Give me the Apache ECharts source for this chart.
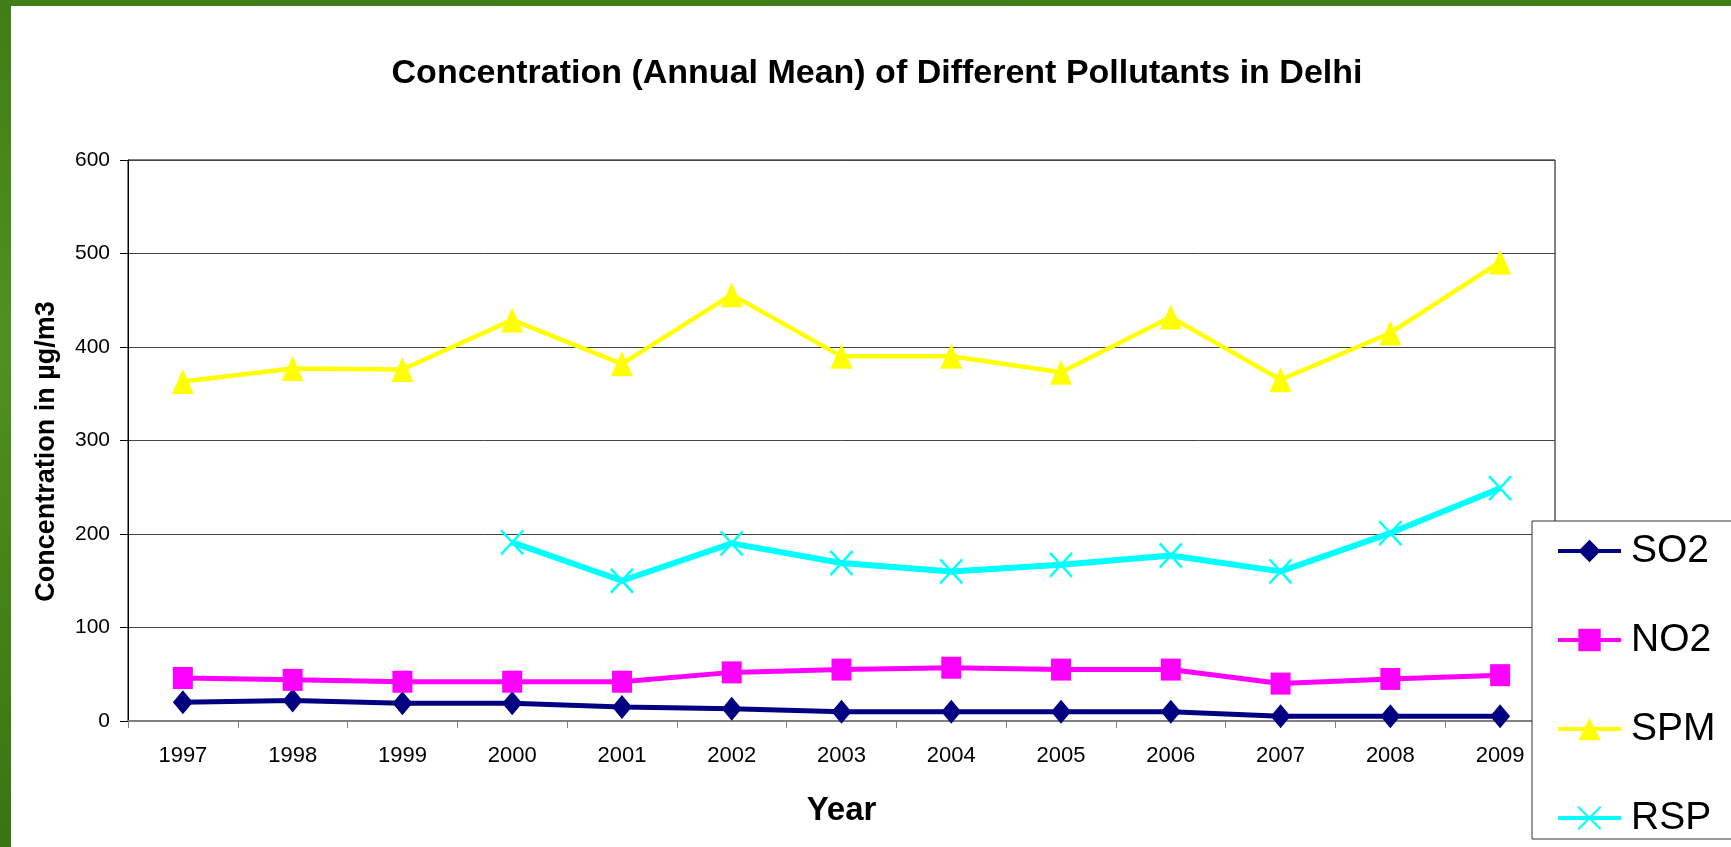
<!DOCTYPE html>
<html>
<head>
<meta charset="utf-8">
<title>Concentration of Pollutants in Delhi</title>
<script src="https://cdn.jsdelivr.net/npm/echarts@6/dist/echarts.min.js"></script>
<style>
  html, body { margin: 0; padding: 0; }
  body {
    width: 1731px; height: 847px; overflow: hidden; position: relative;
    background: linear-gradient(180deg, #3f7d16 0%, #4f9120 40%, #3a7412 100%);
  }
  #chart {
    position: absolute; left: 11px; top: 6px;
    width: 1720px; height: 841px; background: #fff;
  }
</style>
</head>
<body>
<div id="chart"></div>
<script>
  // values (µg/m3)
  var years = ['1997', '1998', '1999', '2000', '2001', '2002', '2003', '2004', '2005', '2006', '2007', '2008', '2009'];
  var so2 = [20, 22, 19, 19, 15, 13, 10, 10, 10, 10, 5, 5, 5];
  var no2 = [46, 44, 42, 42, 42, 52, 55, 57, 55, 55, 40, 45, 49];
  var spm = [363, 377, 376, 429, 382, 456, 390, 390, 373, 432, 365, 415, 491];
  var rsp = [null, null, null, 191, 150, 190, 169, 160, 167, 177, 160, 201, 249];

  var font = '"Liberation Sans", Arial, sans-serif';
  var crossPath = 'path://M0,0L10,10M10,0L0,10';

  var chart = echarts.init(document.getElementById('chart'));
  chart.setOption({
    animation: false,
    backgroundColor: '#fff',
    title: {
      text: 'Concentration (Annual Mean) of Different Pollutants in Delhi',
      left: 866,
      top: 51,
      textAlign: 'center',
      padding: 0,
      textStyle: { fontFamily: font, fontSize: 34, fontWeight: 'bold', color: '#000' }
    },
    legend: {
      orient: 'vertical',
      left: 1521,
      top: 515,
      padding: [10, 17, 1, 24],
      itemGap: 49,
      itemWidth: 63,
      itemHeight: 28,
      backgroundColor: '#fff',
      borderColor: '#333',
      borderWidth: 1,
      borderRadius: 0,
      selectedMode: false,
      lineStyle: { width: 4 },
      textStyle: { fontFamily: font, fontSize: 39, color: '#000', lineHeight: 40, padding: [0, 0, 0, 5] },
      data: ['SO2', 'NO2', 'SPM', 'RSP']
    },
    grid: {
      left: 117,
      right: 176,
      top: 154,
      bottom: 126,
      show: true,
      borderColor: '#000',
      borderWidth: 1,
      backgroundColor: 'transparent'
    },
    xAxis: {
      type: 'category',
      data: years,
      boundaryGap: true,
      name: 'Year',
      nameLocation: 'middle',
      nameGap: 73,
      nameTextStyle: { fontFamily: font, fontSize: 33, fontWeight: 'bold', color: '#000' },
      axisLine: { lineStyle: { color: '#808080', width: 2 } },
      axisTick: { show: true, length: 7, lineStyle: { color: '#808080', width: 1 } },
      axisLabel: { margin: 24, fontFamily: font, fontSize: 22, color: '#000' },
      splitLine: { show: false }
    },
    yAxis: {
      type: 'value',
      min: 0,
      max: 600,
      interval: 100,
      name: 'Concentration in µg/m3',
      nameLocation: 'middle',
      nameRotate: 90,
      nameGap: 68,
      nameTextStyle: { fontFamily: font, fontSize: 27, fontWeight: 'bold', color: '#000', padding: [0, 22, 0, 0] },
      axisLine: { show: true, lineStyle: { color: '#000', width: 1 } },
      axisTick: { show: true, length: 8, lineStyle: { color: '#000' } },
      axisLabel: { margin: 18, fontFamily: font, fontSize: 21, color: '#000' },
      splitLine: { show: true, lineStyle: { color: '#444', width: 1 } }
    },
    series: [
      {
        name: 'SO2',
        type: 'line',
        data: so2,
        symbol: 'diamond',
        symbolSize: [20, 24],
        lineStyle: { color: '#000080', width: 5 },
        itemStyle: { color: '#000080' }
      },
      {
        name: 'NO2',
        type: 'line',
        data: no2,
        symbol: 'rect',
        symbolSize: [20, 22],
        lineStyle: { color: '#FF00FF', width: 5 },
        itemStyle: { color: '#FF00FF' }
      },
      {
        name: 'SPM',
        type: 'line',
        data: spm,
        symbol: 'triangle',
        symbolSize: [22, 25],
        lineStyle: { color: '#FFFF00', width: 4.5 },
        itemStyle: { color: '#FFFF00' }
      },
      {
        name: 'RSP',
        type: 'line',
        data: rsp,
        symbol: crossPath,
        symbolSize: [22, 24],
        lineStyle: { color: '#00FFFF', width: 6 },
        itemStyle: { color: '#00FFFF', borderColor: '#00FFFF', borderWidth: 2.5 }
      }
    ]
  });
</script>
</body>
</html>
